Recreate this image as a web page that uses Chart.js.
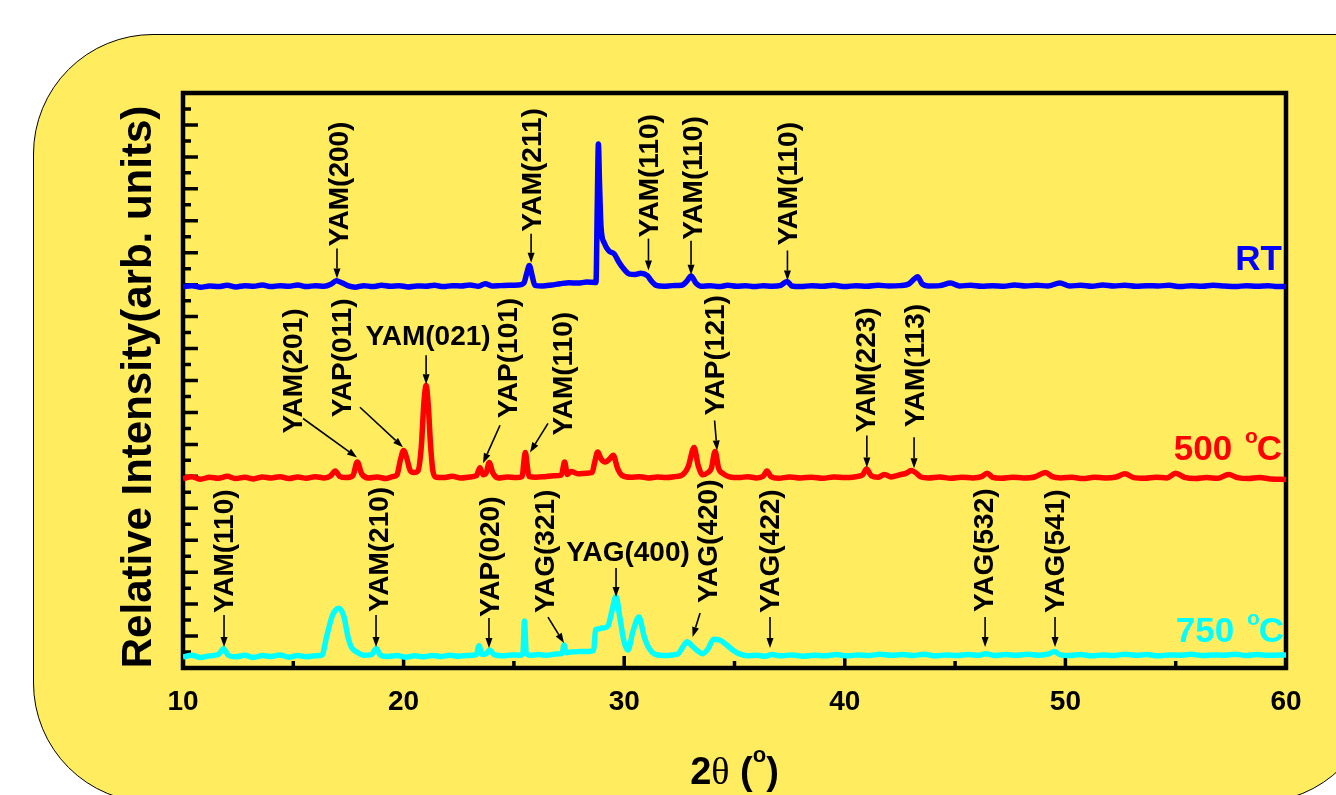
<!DOCTYPE html>
<html>
<head>
<meta charset="utf-8">
<script src="https://cdn.jsdelivr.net/npm/chart.js@4.4.0/dist/chart.umd.min.js"></script>
<style>
  html, body { margin: 0; padding: 0; background: #fff; overflow: hidden; }
  #frame {
    position: absolute; left: 33px; top: 34px; width: 1344px; height: 769px;
    box-sizing: border-box; border: 1.5px solid #000; border-radius: 120px 40px 120px 120px;
    background: #ffec5f;
  }
  #chart { position: absolute; left: 0; top: 0; }
</style>
</head>
<body>
<div id="frame"></div>
<canvas id="chart" width="1336" height="795"></canvas>
<script>
/* XRD patterns: RT / 500 C / 750 C, stacked with offsets (arb. units) */

// [2theta, intensity]
const rtPattern = [
  [10.0,11.93],[10.4,11.97],[10.8,11.92],[11.2,11.96],[11.6,11.94],[12.0,11.98],[12.4,11.93],[12.8,11.97],
  [13.2,11.95],[13.6,11.99],[14.0,11.94],[14.4,11.97],[14.8,11.95],[15.2,11.99],[15.6,11.94],[16.0,11.97],
  [16.4,11.95],[16.7,12.01],[16.95,12.12],[17.2,12.06],[17.5,11.96],[17.8,11.92],[18.2,11.97],[18.6,11.94],
  [19.0,11.98],[19.4,11.95],[19.8,11.97],[20.2,11.93],[20.6,11.96],[21.0,11.95],[21.4,11.98],[21.8,11.94],
  [22.2,11.97],[22.6,11.96],[23.0,11.99],[23.4,11.95],[23.7,12.03],[24.0,11.96],[24.4,11.97],[24.8,11.98],
  [25.2,11.99],[25.45,12.05],[25.58,12.35],[25.7,12.6],[25.82,12.3],[25.95,11.98],[26.3,11.96],[26.7,11.99],
  [27.1,12.03],[27.5,12.06],[27.9,12.05],[28.3,12.08],[28.72,12.07],[28.78,14.5],[28.83,16.4],[28.88,15.2],
  [28.95,13.8],[29.1,13.3],[29.3,13.06],[29.55,12.96],[29.75,12.72],[29.95,12.52],[30.25,12.33],[30.5,12.32],
  [30.75,12.36],[31.05,12.28],[31.25,12.1],[31.45,11.98],[31.8,11.95],[32.2,11.97],[32.6,11.98],[32.85,12.12],
  [33.03,12.27],[33.25,12.05],[33.5,11.95],[33.9,11.97],[34.3,11.94],[34.7,11.98],[35.1,11.95],[35.5,11.97],
  [35.9,11.94],[36.3,11.97],[36.7,11.95],[37.1,11.98],[37.38,12.1],[37.6,11.96],[38.0,11.94],[38.5,11.97],
  [39.0,11.95],[39.5,11.98],[40.0,11.94],[40.5,11.97],[41.0,11.95],[41.5,11.98],[42.0,11.96],[42.5,11.97],
  [42.9,12.02],[43.15,12.18],[43.3,12.25],[43.5,12.03],[43.8,11.96],[44.3,11.97],[44.8,12.05],[45.2,11.96],
  [45.7,11.98],[46.2,11.95],[46.7,11.97],[47.2,11.95],[47.7,11.99],[48.2,11.96],[48.7,11.98],[49.2,11.96],
  [49.75,12.05],[50.2,11.96],[50.7,11.98],[51.2,11.95],[51.7,11.99],[52.2,11.96],[52.7,11.98],[53.2,11.95],
  [53.7,11.97],[54.2,11.96],[54.7,11.98],[55.2,11.94],[55.7,11.97],[56.2,11.95],[56.7,11.98],[57.2,11.96],
  [57.7,11.94],[58.2,11.97],[58.7,11.95],[59.2,11.97],[59.6,11.94],[60.0,11.95],
];

const pattern500 = [
  [10.0,5.93],[10.4,5.99],[10.8,5.91],[11.2,5.97],[11.6,5.94],[12.0,6.0],[12.4,5.93],[12.8,5.97],
  [13.2,5.92],[13.6,5.98],[14.0,5.95],[14.4,5.99],[14.8,5.93],[15.2,5.98],[15.6,5.94],[16.0,5.99],
  [16.4,5.95],[16.7,6.02],[16.9,6.17],[17.1,6.0],[17.4,5.96],[17.7,6.02],[17.9,6.45],[18.1,6.08],
  [18.4,5.95],[18.8,5.98],[19.2,5.93],[19.5,5.99],[19.7,6.05],[19.85,6.5],[20.0,6.81],[20.15,6.55],
  [20.3,6.18],[20.47,6.12],[20.65,6.17],[20.8,6.9],[20.92,8.3],[21.02,8.84],[21.12,8.2],[21.22,7.0],
  [21.32,6.2],[21.45,5.98],[21.8,5.96],[22.2,6.0],[22.6,5.95],[23.0,5.98],[23.3,6.02],[23.46,6.27],
  [23.6,6.05],[23.75,6.12],[23.88,6.43],[24.05,6.1],[24.3,5.95],[24.7,5.98],[25.1,5.96],[25.38,6.0],
  [25.45,6.45],[25.52,6.75],[25.6,6.35],[25.68,6.0],[26.0,5.97],[26.4,5.99],[26.8,6.02],[27.15,6.04],
  [27.3,6.45],[27.42,6.06],[27.6,6.15],[27.9,6.08],[28.3,6.1],[28.55,6.12],[28.65,6.4],[28.8,6.76],
  [28.95,6.55],[29.15,6.45],[29.35,6.55],[29.5,6.66],[29.7,6.25],[29.9,6.03],[30.3,5.97],[30.7,5.99],
  [31.1,5.95],[31.5,5.98],[31.9,5.96],[32.3,5.99],[32.65,6.05],[32.9,6.3],[33.17,6.9],[33.35,6.35],
  [33.55,6.05],[33.8,6.12],[33.95,6.25],[34.12,6.78],[34.28,6.25],[34.5,6.08],[34.8,5.98],[35.2,5.96],
  [35.6,5.99],[36.0,5.95],[36.3,6.0],[36.47,6.17],[36.65,5.99],[37.0,5.94],[37.5,5.98],[38.0,5.95],
  [38.5,5.97],[39.0,5.94],[39.5,5.98],[40.0,5.96],[40.5,5.99],[40.8,6.04],[40.98,6.23],[41.2,6.02],
  [41.5,5.97],[41.8,6.06],[42.1,5.98],[42.5,6.05],[42.8,6.1],[43.0,6.18],[43.2,6.12],[43.45,5.98],
  [43.8,5.95],[44.3,5.98],[44.8,5.94],[45.3,5.97],[45.8,5.95],[46.2,5.99],[46.45,6.1],[46.7,5.97],
  [47.1,5.94],[47.6,5.97],[48.1,5.95],[48.6,5.98],[49.1,6.12],[49.4,5.99],[49.8,5.95],[50.3,5.97],
  [50.8,5.93],[51.3,5.97],[51.8,5.95],[52.3,5.98],[52.7,6.08],[53.1,5.96],[53.6,5.94],[54.1,5.97],
  [54.6,5.95],[55.0,6.1],[55.4,5.97],[55.9,5.93],[56.4,5.96],[56.9,5.94],[57.4,6.06],[57.8,5.96],
  [58.3,5.93],[58.8,5.96],[59.3,5.92],[60.0,5.9],
];

const pattern750 = [
  [10.0,0.34],[10.4,0.4],[10.8,0.33],[11.2,0.38],[11.6,0.42],[11.84,0.6],[12.05,0.4],[12.4,0.35],
  [12.8,0.4],[13.2,0.33],[13.6,0.39],[14.0,0.36],[14.4,0.41],[14.8,0.34],[15.2,0.39],[15.6,0.35],
  [16.0,0.38],[16.3,0.4],[16.5,0.95],[16.75,1.6],[16.9,1.8],[17.07,1.87],[17.3,1.6],[17.47,1.0],
  [17.63,0.66],[17.88,0.5],[18.2,0.4],[18.55,0.42],[18.76,0.61],[18.95,0.4],[19.3,0.36],[19.7,0.39],
  [20.1,0.34],[20.5,0.38],[20.9,0.35],[21.3,0.39],[21.7,0.36],[22.1,0.4],[22.5,0.37],[22.9,0.39],
  [23.3,0.42],[23.42,0.7],[23.55,0.43],[23.75,0.45],[23.9,0.56],[24.1,0.42],[24.5,0.38],[24.9,0.41],
  [25.3,0.4],[25.41,0.45],[25.48,1.47],[25.56,0.45],[25.7,0.4],[26.1,0.42],[26.5,0.4],[26.9,0.44],
  [27.18,0.45],[27.27,0.72],[27.36,0.48],[27.6,0.5],[28.0,0.52],[28.4,0.52],[28.62,0.55],[28.7,1.2],
  [28.85,1.22],[29.0,1.25],[29.25,1.3],[29.45,1.8],[29.63,2.24],[29.8,1.6],[30.0,0.8],[30.17,0.56],
  [30.4,1.15],[30.67,1.6],[30.9,1.0],[31.1,0.65],[31.4,0.43],[31.8,0.39],[32.2,0.41],[32.45,0.45],
  [32.65,0.65],[32.85,0.82],[33.1,0.68],[33.3,0.55],[33.55,0.45],[33.8,0.6],[34.05,0.9],[34.35,0.87],
  [34.65,0.72],[34.95,0.55],[35.2,0.45],[35.6,0.38],[36.0,0.4],[36.4,0.37],[36.7,0.42],[37.1,0.38],
  [37.6,0.41],[38.1,0.37],[38.6,0.4],[39.1,0.38],[39.6,0.42],[40.1,0.38],[40.6,0.41],[41.1,0.39],
  [41.6,0.43],[42.1,0.4],[42.6,0.42],[43.1,0.39],[43.6,0.43],[44.1,0.38],[44.6,0.41],[45.1,0.39],
  [45.6,0.42],[46.1,0.4],[46.4,0.45],[46.8,0.39],[47.3,0.42],[47.8,0.4],[48.3,0.43],[48.8,0.4],
  [49.25,0.44],[49.5,0.52],[49.75,0.42],[50.2,0.39],[50.7,0.42],[51.2,0.38],[51.7,0.41],[52.2,0.39],
  [52.7,0.43],[53.2,0.4],[53.7,0.42],[54.2,0.38],[54.7,0.41],[55.2,0.4],[55.7,0.43],[56.2,0.39],
  [56.7,0.41],[57.2,0.4],[57.7,0.43],[58.2,0.39],[58.7,0.42],[59.2,0.4],[60.0,0.41],
];

// peak labels: [text, 2theta of arrow tip, intensity of arrow tip]
const peakLabels = [
  ['YAM(200)', 16.98, 12.19], ['YAM(211)', 25.78, 12.69], ['YAM(110)', 31.1, 12.44],
  ['YAM(110)', 33.03, 12.31], ['YAM(110)', 37.4, 12.13],
  ['YAM(201)', 17.89, 6.59], ['YAP(011)', 19.97, 6.91], ['YAM(021)', 21.02, 8.88],
  ['YAP(101)', 23.6, 6.41], ['YAM(110)', 25.73, 6.75], ['YAP(121)', 34.21, 6.81],
  ['YAM(223)', 41.0, 6.28], ['YAM(113)', 43.14, 6.25],
  ['YAM(110)', 11.86, 0.66], ['YAM(210)', 18.75, 0.66], ['YAP(020)', 23.87, 0.63],
  ['YAG(321)', 27.27, 0.78], ['YAG(400)', 29.63, 2.22], ['YAG(420)', 33.1, 0.97],
  ['YAG(422)', 36.61, 0.63], ['YAG(532)', 46.36, 0.66], ['YAG(541)', 49.53, 0.66],
];

// placement of each label, pixels relative to arrow tip (tail of arrow, text origin)
const labelPlacement = [
  { tail: [0, -30], text: [3, -32] }, { tail: [0, -29], text: [2, -31] }, { tail: [0, -32], text: [2, -33] },
  { tail: [0, -34], text: [3, -35] }, { tail: [0, -30], text: [2, -35] },
  { tail: [-54, -39], text: [-63, -24] }, { tail: [-43, -40], text: [-60, -30] }, { tail: [0, -29], text: [2, -47], flat: true },
  { tail: [17, -38], text: [26, -45] }, { tail: [18, -29], text: [34, -17] }, { tail: [-2.5, -30], text: [-1, -35] },
  { tail: [0, -32], text: [0, -35] }, { tail: [0, -31], text: [2, -41] },
  { tail: [0, -32], text: [1, -34] }, { tail: [0, -32], text: [4, -35] }, { tail: [0, -30], text: [2, -31] },
  { tail: [-16, -26], text: [-18, -30] }, { tail: [0, -29], text: [12, -44], flat: true }, { tail: [7.5, -24], text: [16.5, -34] },
  { tail: [0, -31], text: [1, -35] }, { tail: [0, -30], text: [0, -35] }, { tail: [0, -30], text: [1, -34] },
];

const FONT = "'Liberation Sans', Arial, Helvetica, sans-serif";
const COLORS = { rt: '#0000ff', t500: '#ff0000', t750: '#00ffff', ink: '#000000' };

function toXY(arr) {
  return arr.map(([x, y]) => ({ x, y }));
}

function drawArrow(ctx, x0, y0, x1, y1) {
  const ang = Math.atan2(y1 - y0, x1 - x0);
  const head = 10, half = 3.5;
  const bx = x1 - head * Math.cos(ang), by = y1 - head * Math.sin(ang);
  ctx.beginPath();
  ctx.moveTo(x0, y0);
  ctx.lineTo(bx, by);
  ctx.stroke();
  ctx.beginPath();
  ctx.moveTo(x1, y1);
  ctx.lineTo(bx + half * Math.sin(ang), by - half * Math.cos(ang));
  ctx.lineTo(bx - half * Math.sin(ang), by + half * Math.cos(ang));
  ctx.closePath();
  ctx.fill();
}

function drawTemp(ctx, num, right, base, color) {
  ctx.fillStyle = color;
  ctx.textAlign = 'left';
  ctx.textBaseline = 'alphabetic';
  ctx.font = `bold 35px ${FONT}`;
  const wC = ctx.measureText('C').width;
  const wN = ctx.measureText(num + ' ').width;
  ctx.font = `bold 21px ${FONT}`;
  const wo = ctx.measureText('o').width;
  const xC = right - wC;
  const xo = xC - wo + 1;
  ctx.fillText('o', xo, base - 17);
  ctx.font = `bold 35px ${FONT}`;
  ctx.fillText('C', xC, base);
  ctx.fillText(num, xo - wN - 3, base);
}

const xrdDecor = {
  id: 'xrdDecor',
  beforeDatasetsDraw(chart) {
    const { ctx, chartArea: a, scales: { x, y } } = chart;
    ctx.save();
    ctx.strokeStyle = COLORS.ink;
    ctx.lineWidth = 3.5;
    ctx.beginPath();
    for (let v = x.min + 5; v < x.max; v += 5) {
      const px = x.getPixelForValue(v);
      ctx.moveTo(px, a.bottom);
      ctx.lineTo(px, a.bottom - (v % 10 === 0 ? 12 : 7));
    }
    for (let v = y.min + 0.5; v < y.max; v += 0.5) {
      const py = y.getPixelForValue(v);
      ctx.moveTo(a.left, py);
      ctx.lineTo(a.left + (v % 1 === 0 ? 15 : 8), py);
    }
    ctx.stroke();
    ctx.lineWidth = 4.5;
    ctx.strokeRect(a.left, a.top, a.right - a.left, a.bottom - a.top);
    ctx.restore();
  },
  afterDatasetsDraw(chart) {
    const { ctx, chartArea: a, scales: { x, y } } = chart;
    ctx.save();

    // peak annotations
    ctx.fillStyle = COLORS.ink;
    ctx.strokeStyle = COLORS.ink;
    ctx.lineWidth = 1.6;
    ctx.font = `bold 28px ${FONT}`;
    peakLabels.forEach(([txt, th, inten], i) => {
      const p = labelPlacement[i];
      const tx = x.getPixelForValue(th), ty = y.getPixelForValue(inten);
      drawArrow(ctx, tx + p.tail[0], ty + p.tail[1], tx, ty);
      const ox = tx + p.text[0], oy = ty + p.text[1];
      if (p.flat) {
        ctx.textAlign = 'center';
        ctx.textBaseline = 'middle';
        ctx.fillText(txt, ox, oy);
      } else {
        ctx.save();
        ctx.translate(ox, oy);
        ctx.rotate(-Math.PI / 2);
        ctx.textAlign = 'left';
        ctx.textBaseline = 'middle';
        ctx.fillText(txt, 0, 0);
        ctx.restore();
      }
    });

    // sample names
    ctx.fillStyle = COLORS.rt;
    ctx.font = `bold 35px ${FONT}`;
    ctx.textAlign = 'right';
    ctx.textBaseline = 'alphabetic';
    ctx.fillText('RT', a.right - 4, 270);
    drawTemp(ctx, '500', a.right - 4, 460, COLORS.t500);
    drawTemp(ctx, '750', a.right - 2, 642, COLORS.t750);

    // axis titles
    ctx.fillStyle = COLORS.ink;
    ctx.save();
    ctx.translate(139, 387);
    ctx.rotate(-Math.PI / 2);
    ctx.font = `bold 42px ${FONT}`;
    ctx.textAlign = 'center';
    ctx.textBaseline = 'middle';
    ctx.fillText('Relative Intensity(arb. units)', 0, 0);
    ctx.restore();

    const parts = [
      ['2', `bold 38px ${FONT}`, 0],
      ['\u03b8', `38px 'Liberation Serif', 'Times New Roman', serif`, 0],
      [' (', `bold 38px ${FONT}`, 0],
      ['o', `bold 22px ${FONT}`, -22],
      [')', `bold 38px ${FONT}`, 0],
    ];
    let total = 0;
    parts.forEach(([t, f]) => { ctx.font = f; total += ctx.measureText(t).width; });
    let cx = (a.left + a.right) / 2 - total / 2;
    ctx.textAlign = 'left';
    ctx.textBaseline = 'alphabetic';
    parts.forEach(([t, f, dy]) => {
      ctx.font = f;
      ctx.fillText(t, cx, 784 + dy);
      cx += ctx.measureText(t).width;
    });

    ctx.restore();
  },
};

const line = (data, color) => ({
  data: toXY(data),
  borderColor: color,
  backgroundColor: color,
  borderWidth: 5.5,
  pointRadius: 0,
  showLine: true,
  fill: false,
  cubicInterpolationMode: 'monotone',
});

new Chart(document.getElementById('chart'), {
  type: 'scatter',
  data: {
    datasets: [
      line(pattern750, COLORS.t750),
      line(pattern500, COLORS.t500),
      line(rtPattern, COLORS.rt),
    ],
  },
  options: {
    responsive: false,
    animation: false,
    devicePixelRatio: 1,
    layout: { padding: { left: 0, right: 50, top: 93, bottom: 0 } },
    plugins: { legend: { display: false }, tooltip: { enabled: false } },
    scales: {
      x: {
        type: 'linear', min: 10, max: 60, position: 'bottom',
        grid: { display: false, drawTicks: false },
        border: { display: false },
        ticks: { stepSize: 10, padding: 17, color: COLORS.ink, font: { family: FONT, weight: 'bold', size: 28 } },
        afterFit(s) { s.height = 127; },
      },
      y: {
        type: 'linear', min: 0, max: 18,
        grid: { display: false, drawTicks: false },
        border: { display: false },
        ticks: { display: false },
        afterFit(s) { s.width = 183; },
      },
    },
  },
  plugins: [xrdDecor],
});
</script>
</body>
</html>
